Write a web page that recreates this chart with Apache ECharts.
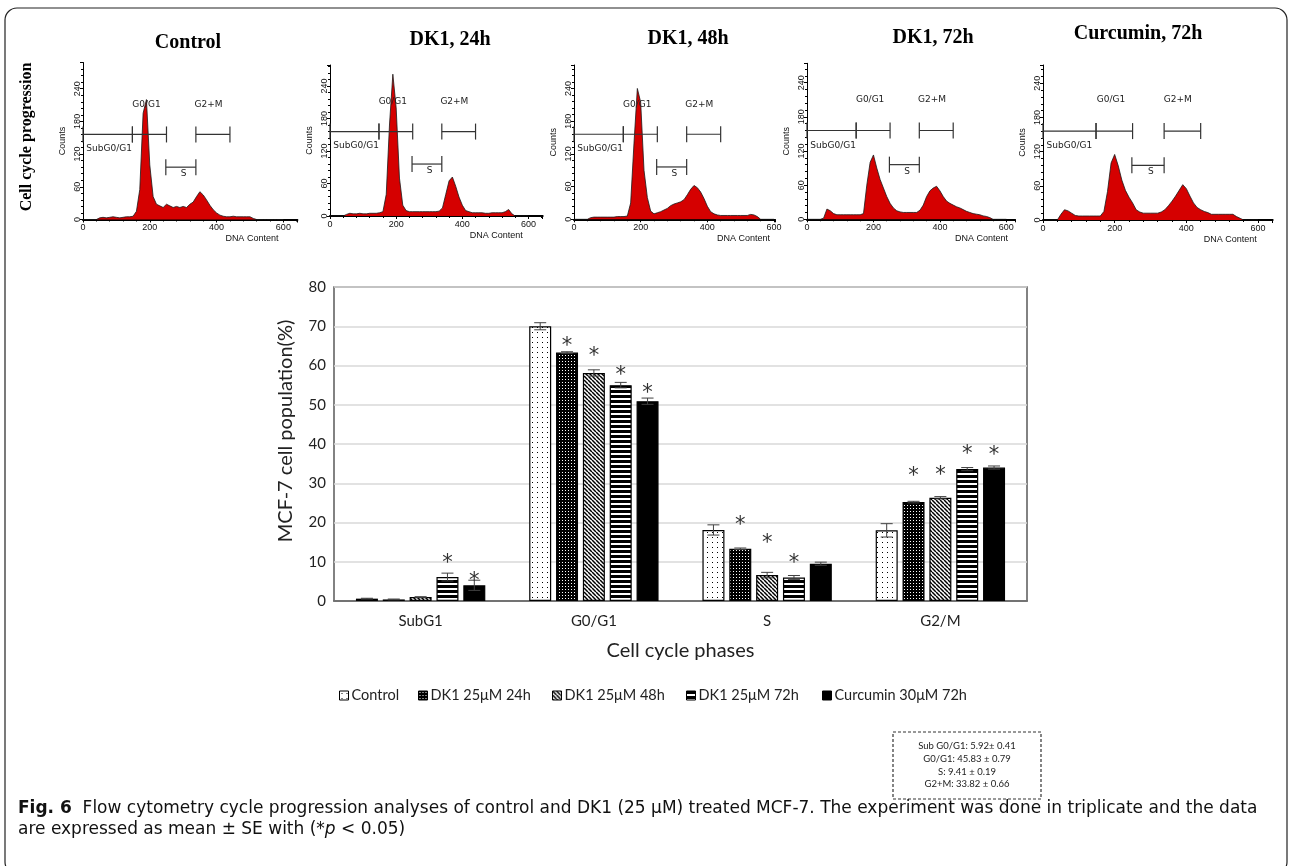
<!DOCTYPE html>
<html lang="en">
<head>
    <meta charset="UTF-8">
    <title>mcf7_cell_cycle</title>
    <script src="https://cdn.jsdelivr.net/npm/echarts@6/dist/echarts.min.js"></script>
    <style>html, body { margin: 0; padding: 0; background: #fff; }</style>
</head>

<body>
    <div id="mainChart" style="width: 1290px; height: 866px;"></div>
    <script>
        // flow cytometry histograms: counts per DNA content bin
        let dnaBins = [0, 10, 20, 30, 40, 50, 60, 70, 80, 90, 100, 110, 120, 130, 140, 150, 160, 170, 180, 190,
            200, 210, 220, 230, 240, 250, 260, 270, 280, 290, 300, 310, 320, 330, 340, 350, 360, 370, 380, 390,
            400, 410, 420, 430, 440, 450, 460, 470, 480, 490, 500, 510, 520, 530, 540, 550, 560, 570, 580, 590, 600]
        let controlCounts = [0, 0, 0, 0, 0, 3, 4, 3, 4, 5, 4, 3, 4, 5, 5, 6, 15, 55, 195, 220,
            100, 42, 28, 25, 22, 28, 25, 22, 24, 22, 24, 22, 28, 32, 42, 51, 45, 36, 26, 18,
            12, 8, 6, 5, 5, 6, 5, 5, 5, 5, 5, 2, 0, 0, 0, 0, 0, 0, 0, 0, 0]
        let dk24Counts = [0, 0, 0, 0, 0, 3, 5, 4, 4, 5, 4, 4, 5, 5, 5, 6, 8, 40, 170, 262,
            200, 70, 20, 10, 8, 8, 8, 8, 8, 8, 8, 8, 8, 9, 15, 40, 65, 72, 55, 35,
            20, 10, 8, 6, 6, 6, 6, 5, 5, 6, 6, 6, 6, 8, 12, 4, 0, 0, 0, 0, 0]
        let dk48Counts = [0, 0, 0, 0, 0, 3, 4, 4, 4, 4, 4, 4, 4, 5, 5, 5, 6, 30, 140, 240,
            215, 90, 40, 15, 10, 12, 14, 17, 20, 25, 28, 30, 32, 36, 45, 55, 62, 58, 50, 38,
            24, 14, 10, 8, 7, 7, 7, 7, 7, 7, 7, 7, 7, 9, 8, 5, 0, 0, 0, 0, 0]
        let dk72Counts = [0, 0, 0, 0, 0, 2, 18, 15, 10, 8, 8, 8, 8, 8, 8, 8, 8, 10, 60, 100,
            113, 90, 70, 55, 40, 28, 20, 15, 13, 12, 12, 12, 12, 12, 16, 25, 40, 50, 55, 58,
            50, 40, 32, 28, 25, 22, 20, 17, 14, 12, 10, 9, 8, 6, 5, 3, 0, 0, 0, 0, 0]
        let curCounts = [0, 0, 0, 0, 0, 10, 18, 16, 12, 8, 7, 7, 7, 7, 7, 7, 7, 15, 50, 100,
            115, 95, 70, 52, 40, 30, 18, 14, 12, 12, 12, 12, 12, 14, 18, 25, 33, 42, 52, 62,
            55, 42, 30, 22, 18, 15, 13, 10, 10, 10, 10, 10, 10, 10, 6, 3, 0, 0, 0, 0, 0]
        let panelTitles = ['Control', 'DK1, 24h', 'DK1, 48h', 'DK1, 72h', 'Curcumin, 72h']

        // gate markers (DNA content range and count level)
        let gateNames = ['SubG0/G1', 'G0/G1', 'S', 'G2+M']
        let gateStart = [0, 148, 248, 338]
        let gateEnd = [148, 250, 338, 440]
        let gateLevel = [156, 156, 96, 156]
        let gateLabelX = [10, 190, 301, 376]
        let gateLabelY = [130, 211, 84, 211]

        // bar chart
        let phases = ['SubG1', 'G0/G1', 'S', 'G2/M']
        let groupNames = ['Control', 'DK1 25μM 24h', 'DK1 25μM 48h', 'DK1 25μM 72h', 'Curcumin 30μM 72h']
        let controlMean = [0.6, 70.0, 18.1, 18.0]
        let controlErr = [0.1, 0.9, 1.3, 1.7]
        let controlStar = [null, null, null, null]
        let dk24Mean = [0.4, 63.3, 13.3, 25.2]
        let dk24Err = [0.1, 0.2, 0.2, 0.2]
        let dk24Star = [null, 65.9, 20.2, 32.8]
        let dk48Mean = [1.0, 58.1, 6.6, 26.3]
        let dk48Err = [0.1, 0.8, 0.7, 0.3]
        let dk48Star = [null, 63.3, 15.6, 33.0]
        let dk72Mean = [6.1, 55.0, 6.0, 33.6]
        let dk72Err = [1.0, 0.7, 0.5, 0.4]
        let dk72Star = [10.5, 58.5, 10.6, 38.3]
        let curMean = [4.0, 50.9, 9.5, 34.0]
        let curErr = [1.3, 0.8, 0.4, 0.4]
        let curStar = [5.9, 53.8, null, 38.1]

        let summaryLines = ['Sub G0/G1: 5.92± 0.41', 'G0/G1: 45.83 ± 0.79', 'S: 9.41 ± 0.19', 'G2+M: 33.82 ± 0.66']

        // panel layout (pixels) for the five histograms
        let panelLeft = [83, 330, 574, 807, 1043]
        let panelTop = [62.5, 65, 65, 63.3, 65]
        let panelWidth = [214.4, 212.7, 201, 208, 229.7]
        let panelHeight = [157, 151, 154.3, 156, 155]
        let panelXMax = [642, 643, 603, 626, 641]
        let panelYMax = [288, 279, 283, 274, 272]
        let nameGapX = [-19, -20, -5, -7, -16]
        let titleX = [188, 450, 688, 933, 1138]
        let titleY = [43, 40, 39, 38, 34]

        let sans = '"Liberation Sans", Arial, sans-serif'
        let calib = 'Lato, "Noto Sans", sans-serif'
        let capFont = '"DejaVu Sans", sans-serif'

        function makePattern(kind) {
            let c = document.createElement('canvas')
            if (kind === 'dots') {
                c.width = 5; c.height = 5
                let ctx = c.getContext('2d')
                ctx.fillStyle = '#fff'; ctx.fillRect(0, 0, 5, 5)
                ctx.fillStyle = '#000'; ctx.fillRect(2, 2, 1, 1)
            } else if (kind === 'mesh') {
                c.width = 3; c.height = 3
                let ctx = c.getContext('2d')
                ctx.fillStyle = '#000'; ctx.fillRect(0, 0, 3, 3)
                ctx.fillStyle = '#fff'; ctx.fillRect(1, 1, 1, 1)
            } else if (kind === 'diag') {
                c.width = 4; c.height = 4
                let ctx = c.getContext('2d')
                ctx.fillStyle = '#fff'; ctx.fillRect(0, 0, 4, 4)
                ctx.strokeStyle = '#000'; ctx.lineWidth = 1.5
                for (let k = -4; k <= 4; k += 4) {
                    ctx.beginPath(); ctx.moveTo(k, 0); ctx.lineTo(k + 4, 4); ctx.stroke()
                }
            } else if (kind === 'hstripe') {
                c.width = 5; c.height = 5
                let ctx = c.getContext('2d')
                ctx.fillStyle = '#fff'; ctx.fillRect(0, 0, 5, 5)
                ctx.fillStyle = '#000'; ctx.fillRect(0, 0, 5, 3)
            } else {
                c.width = 2; c.height = 2
                let ctx = c.getContext('2d')
                ctx.fillStyle = '#000'; ctx.fillRect(0, 0, 2, 2)
            }
            return { image: c, repeat: 'repeat' }
        }

        let grids = []
        let xAxes = []
        let yAxes = []
        let series = []
        let graphics = []

        let hist = [controlCounts, dk24Counts, dk48Counts, dk72Counts, curCounts]
        hist.forEach((counts, i) => {
            grids.push({ left: panelLeft[i], top: panelTop[i], width: panelWidth[i], height: panelHeight[i], outerBoundsMode: 'none' })
            xAxes.push({
                type: 'value', gridIndex: i, min: 0, max: panelXMax[i], interval: 200,
                name: 'DNA Content', nameLocation: 'end', nameGap: nameGapX[i],
                nameTextStyle: { fontFamily: sans, fontSize: 9, color: '#111', align: 'right', verticalAlign: 'top', padding: [15, 0, 0, 0] },
                axisLine: { lineStyle: { color: '#000', width: 2 } },
                axisTick: { length: 3, lineStyle: { color: '#000' } },
                minorTick: { show: true, splitNumber: 5, length: 2, lineStyle: { color: '#000' } },
                axisLabel: { fontFamily: sans, fontSize: 9, color: '#111', margin: 4, formatter: v => v % 200 === 0 ? String(v) : '' },
                splitLine: { show: false }
            })
            yAxes.push({
                type: 'value', gridIndex: i, min: 0, max: panelYMax[i], interval: 60,
                name: 'Counts', nameLocation: 'middle', nameGap: 16, nameRotate: 90,
                nameTextStyle: { fontFamily: sans, fontSize: 9, color: '#111' },
                axisLine: { show: true, lineStyle: { color: '#000', width: 1 } },
                axisTick: { show: true, length: 3, lineStyle: { color: '#000' } },
                minorTick: { show: true, splitNumber: 5, length: 2, lineStyle: { color: '#000' } },
                axisLabel: { fontFamily: sans, fontSize: 9, color: '#111', rotate: 90, margin: 1, formatter: v => v % 60 === 0 ? String(v) : '' },
                splitLine: { show: false }
            })
            series.push({
                type: 'line', xAxisIndex: i, yAxisIndex: i,
                data: dnaBins.map((x, j) => [x, counts[j]]),
                symbol: 'none', silent: true,
                lineStyle: { color: '#1a1a1a', width: 0.8 },
                areaStyle: { color: '#d50000', opacity: 1 },
                z: 2
            })
            series.push({
                type: 'custom', xAxisIndex: i, yAxisIndex: i, silent: true, z: 3,
                data: gateStart.map((s, k) => [s, gateEnd[k], gateLevel[k], gateLabelX[k], gateLabelY[k]]),
                encode: { x: [0, 1, 3], y: [2, 4] },
                renderItem: function (params, api) {
                    let k = params.dataIndex
                    let p0 = api.coord([api.value(0), api.value(2)])
                    let p1 = api.coord([api.value(1), api.value(2)])
                    let lp = api.coord([api.value(3), api.value(4)])
                    let st = { stroke: '#333', lineWidth: 1.2 }
                    return {
                        type: 'group', children: [
                            { type: 'line', shape: { x1: p0[0], y1: p0[1], x2: p1[0], y2: p1[1] }, style: st },
                            { type: 'line', shape: { x1: p0[0], y1: p0[1] - 8, x2: p0[0], y2: p0[1] + 8 }, style: st },
                            { type: 'line', shape: { x1: p1[0], y1: p1[1] - 8, x2: p1[0], y2: p1[1] + 8 }, style: st },
                            {
                                type: 'text', style: {
                                    text: gateNames[k], x: lp[0], y: lp[1], align: k === 0 ? 'left' : 'center',
                                    verticalAlign: 'middle', fontSize: 9, fontFamily: '"DejaVu Sans", sans-serif', fill: '#222'
                                }
                            }
                        ]
                    }
                }
            })
            graphics.push({
                type: 'text', x: titleX[i], y: titleY[i],
                style: { text: panelTitles[i], align: 'center', verticalAlign: 'middle', fontSize: 20, fontWeight: 'bold', fontFamily: '"Liberation Serif", "Times New Roman", serif', fill: '#000' }
            })
        })

        // bar chart grid
        let bi = 5
        grids.push({ left: 334, top: 287, width: 693, height: 314, show: true, borderColor: '#595959', borderWidth: 1.5, outerBoundsMode: 'none' })
        xAxes.push({
            type: 'category', gridIndex: bi, data: phases,
            name: 'Cell cycle phases', nameLocation: 'middle', nameGap: 40,
            nameTextStyle: { fontFamily: calib, fontSize: 20, color: '#222' },
            axisLine: { lineStyle: { color: '#595959', width: 1.5 } },
            axisTick: { show: false },
            axisLabel: { fontFamily: calib, fontSize: 15, color: '#222', margin: 13 }
        })
        yAxes.push({
            type: 'value', gridIndex: bi, min: 0, max: 80, interval: 10,
            name: 'MCF-7 cell population(%)', nameLocation: 'middle', nameGap: 38, nameRotate: 90,
            nameTextStyle: { fontFamily: calib, fontSize: 20, color: '#222', padding: [0, 0, 0, 26] },
            axisLine: { show: false }, axisTick: { show: false },
            axisLabel: { fontFamily: calib, fontSize: 15, color: '#222', margin: 8 },
            splitLine: { lineStyle: { color: '#d9d9d9', width: 1.5 } }
        })

        let barW = 22
        let pitch = barW * 1.22
        let means = [controlMean, dk24Mean, dk48Mean, dk72Mean, curMean]
        let errs = [controlErr, dk24Err, dk48Err, dk72Err, curErr]
        let stars = [controlStar, dk24Star, dk48Star, dk72Star, curStar]
        let patterns = [makePattern('dots'), makePattern('mesh'), makePattern('diag'), makePattern('hstripe'), makePattern('solid')]
        let legendLeft = [339, 418, 552, 686, 822]
        let legends = []

        groupNames.forEach((name, i) => {
            series.push({
                type: 'bar', name: name, xAxisIndex: bi, yAxisIndex: bi,
                data: means[i], barWidth: barW, barGap: '22%',
                itemStyle: { color: patterns[i], borderColor: '#000', borderWidth: 1.2 },
                silent: true
            })
            let off = (i - 2) * pitch
            series.push({
                type: 'custom', xAxisIndex: bi, yAxisIndex: bi, silent: true, z: 5,
                data: phases.map((p, k) => [k, means[i][k], errs[i][k]]),
                encode: { x: 0, y: 1 },
                renderItem: function (params, api) {
                    let c = api.coord([api.value(0), api.value(1)])
                    let x = c[0] + off
                    let yT = api.coord([api.value(0), api.value(1) + api.value(2)])[1]
                    let yB = api.coord([api.value(0), api.value(1) - api.value(2)])[1]
                    let st = { stroke: '#404040', lineWidth: 1 }
                    return {
                        type: 'group', children: [
                            { type: 'line', shape: { x1: x, y1: yT, x2: x, y2: yB }, style: st },
                            { type: 'line', shape: { x1: x - 6, y1: yT, x2: x + 6, y2: yT }, style: st },
                            { type: 'line', shape: { x1: x - 6, y1: yB, x2: x + 6, y2: yB }, style: st }
                        ]
                    }
                }
            })
            let starData = []
            stars[i].forEach((s, k) => { if (s !== null) starData.push([k, s]) })
            series.push({
                type: 'custom', xAxisIndex: bi, yAxisIndex: bi, silent: true, z: 6,
                data: starData,
                encode: { x: 0, y: 1 },
                renderItem: function (params, api) {
                    let c = api.coord([api.value(0), api.value(1)])
                    return {
                        type: 'text', style: {
                            text: '*', x: c[0] + off, y: c[1] + 4, align: 'center', verticalAlign: 'middle',
                            fontSize: 21, fontFamily: '"DejaVu Sans", sans-serif', fill: '#333'
                        }
                    }
                }
            })
            legends.push({
                data: [name], left: legendLeft[i], top: 688, icon: 'rect', itemWidth: 9, itemHeight: 9, itemGap: 0,
                padding: 0, selectedMode: false,
                itemStyle: { borderColor: '#000', borderWidth: 1 },
                textStyle: { fontFamily: calib, fontSize: 14.5, color: '#222', padding: [0, 0, 0, -2] }
            })
        })

        // frame, side label, summary box, caption
        graphics.push({
            type: 'rect', z: -1, shape: { x: 5, y: 8, width: 1282, height: 866, r: 12 },
            style: { fill: 'none', stroke: '#222', lineWidth: 1.2 }
        })
        graphics.push({
            type: 'text', x: 27, y: 137, rotation: Math.PI / 2,
            style: { text: 'Cell cycle progression', align: 'center', verticalAlign: 'middle', fontSize: 16, fontWeight: 'bold', fontFamily: '"Liberation Serif", serif', fill: '#000' }
        })
        graphics.push({
            type: 'rect', shape: { x: 893, y: 732, width: 148, height: 67 },
            style: { fill: 'none', stroke: '#333', lineWidth: 1.2, lineDash: [3, 2] }
        })
        summaryLines.forEach((t, k) => {
            graphics.push({
                type: 'text', x: 967, y: 746 + k * 12.8,
                style: { text: t, align: 'center', verticalAlign: 'middle', fontSize: 9.5, fontFamily: calib, fill: '#222' }
            })
        })
        let capRich = {
            b: { fontFamily: capFont, fontWeight: 'bold', fontSize: 17, fill: '#111' },
            n: { fontFamily: capFont, fontSize: 17, fill: '#111' },
            i: { fontFamily: capFont, fontStyle: 'italic', fontSize: 17, fill: '#111' }
        }
        graphics.push({
            type: 'text', x: 18, y: 809,
            style: { text: '{b|Fig. 6}{n|  Flow cytometry cycle progression analyses of control and DK1 (25 μM) treated MCF-7. The experiment was done in triplicate and the data}', rich: capRich, verticalAlign: 'middle' }
        })
        graphics.push({
            type: 'text', x: 18, y: 830,
            style: { text: '{n|are expressed as mean ± SE with (*}{i|p}{n| < 0.05)}', rich: capRich, verticalAlign: 'middle' }
        })

        let chartsData = {
            animation: false,
            backgroundColor: '#fff',
            grid: grids,
            xAxis: xAxes,
            yAxis: yAxes,
            legend: legends,
            series: series,
            graphic: graphics
        }

        let charts = echarts.init(document.querySelector('#mainChart'))
        charts.setOption(chartsData, true)
    </script>
</body>

</html>
